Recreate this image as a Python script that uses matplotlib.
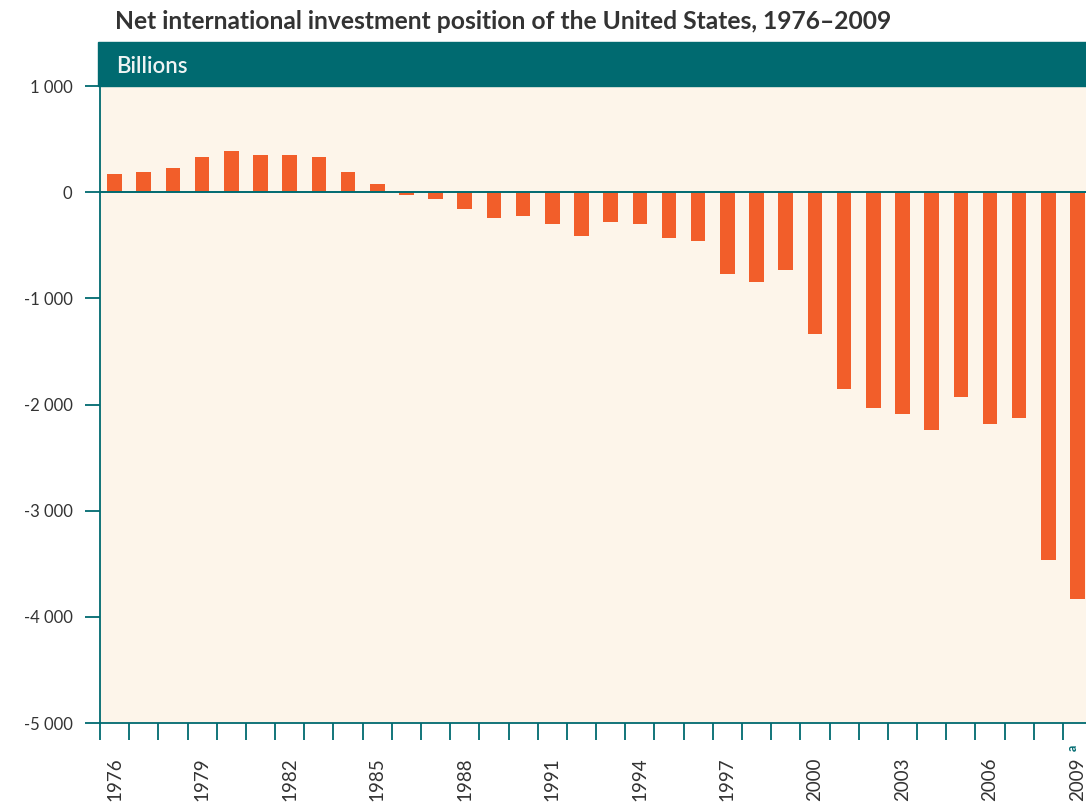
import matplotlib.pyplot as plt
from matplotlib.patches import Rectangle
from matplotlib.transforms import blended_transform_factory

# Chart data.
YEARS = [1976, 1977, 1978, 1979, 1980, 1981, 1982, 1983, 1984, 1985,
         1986, 1987, 1988, 1989, 1990, 1991, 1992, 1993, 1994, 1995,
         1996, 1997, 1998, 1999, 2000, 2001, 2002, 2003, 2004, 2005,
         2006, 2007, 2008, 2009]
NIIP = [167, 186, 223, 333, 384, 349, 349, 333, 186, 78,
        -31, -66, -160, -247, -229, -301, -411, -285, -301, -430,
        -464, -774, -843, -735, -1332, -1858, -2037, -2093, -2240, -1930,
        -2184, -2127, -3466, -3829]
YTICKS = [1000, 0, -1000, -2000, -3000, -4000, -5000]
YTICK_LABELS = ['1 000', '0', '-1 000', '-2 000', '-3 000', '-4 000', '-5 000']
LABEL_EVERY = 3

# Style constants.
W, H = 1086, 805
TEAL = '#006a70'
ORANGE = '#f25e2a'
CREAM = '#fdf5ea'
TEXT = '#333333'

plt.rcParams['font.family'] = ['Lato', 'DejaVu Sans']

fig = plt.figure(figsize=(W / 100, H / 100), dpi=100)
ax = fig.add_axes([100 / W, 82 / H, 1 - 100 / W, 637 / H])
ax.set_facecolor(CREAM)

x = list(range(len(YEARS)))
ax.bar(x, NIIP, width=0.5, color=ORANGE, zorder=2)
ax.axhline(0, color=TEAL, lw=1.4, zorder=3)

ax.set_xlim(-0.5, 33.29)
ax.set_ylim(-5000, 1000)

# y axis
ax.set_yticks(YTICKS)
ax.set_yticklabels(YTICK_LABELS, fontsize=12, color=TEXT, fontweight='normal')
ax.tick_params(axis='y', length=10.8, width=1.3, color=TEAL, pad=9)

# x axis: minor ticks on bar boundaries, labels on every third bar
ax.set_xticks([i - 0.5 for i in x], minor=True)
ax.tick_params(axis='x', which='minor', length=12, width=1.3, color=TEAL)
major = x[::LABEL_EVERY]
ax.set_xticks(major)
ax.set_xticklabels([str(YEARS[i]) for i in major], rotation=90,
                   fontsize=13.5, color=TEXT, fontweight='normal')
ax.tick_params(axis='x', which='major', length=0, pad=25)

for side in ['top', 'right']:
    ax.spines[side].set_visible(False)
for side in ['left', 'bottom']:
    ax.spines[side].set_color(TEAL)
    ax.spines[side].set_linewidth(1.3)

# footnote mark on the last year
trans = blended_transform_factory(ax.transData, fig.transFigure)
ax.text(x[-1] - 0.15, (H - 748) / H, 'a', transform=trans, rotation=90,
        fontsize=9, color=TEAL, ha='center', va='center', fontweight='bold',
        clip_on=False)

# teal header band
fig.patches.append(Rectangle((97.7 / W, 719 / H), 1, 44 / H,
                             transform=fig.transFigure, color=TEAL, zorder=0))
fig.text(116 / W, (H - 73) / H, 'Billions', fontsize=16, color='#eef4f4',
         fontweight='semibold', va='baseline')
fig.text(115 / W, (H - 29) / H,
         'Net international investment position of the United States, 1976\u20132009',
         fontsize=17.7, color=TEXT, fontweight='bold', va='baseline')

fig.savefig('out.png', dpi=100)
